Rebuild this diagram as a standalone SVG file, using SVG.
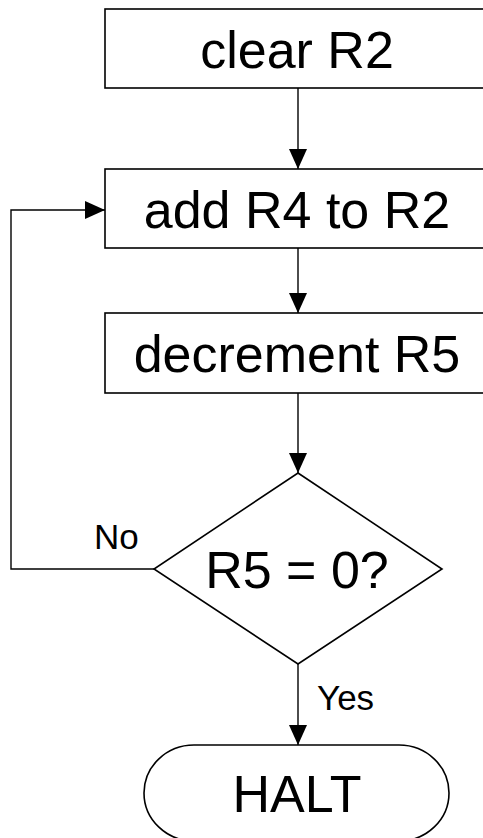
<svg xmlns="http://www.w3.org/2000/svg" width="483" height="838" viewBox="0 0 483 838">
<defs>
<marker id="arr" markerWidth="20" markerHeight="18" refX="20" refY="9" orient="auto" markerUnits="userSpaceOnUse">
<path d="M0,0 L20,9 L0,18 Z" fill="#000"/>
</marker>
<style>
.n{fill:#fff;stroke:#000;stroke-width:1.6}
.t{font-family:"Liberation Sans",Arial,sans-serif;font-size:52px;fill:#000;text-anchor:middle}
.l{font-family:"Liberation Sans",Arial,sans-serif;font-size:35px;fill:#000}
.c{fill:none;stroke:#000;stroke-width:1.4}
</style>
</defs>
<rect width="483" height="838" fill="#fff"/>
<g id="connectors">
<line class="c" x1="298" y1="88" x2="298" y2="169" marker-end="url(#arr)"/>
<line class="c" x1="298" y1="248" x2="298" y2="313" marker-end="url(#arr)"/>
<line class="c" x1="298" y1="393" x2="298" y2="473" marker-end="url(#arr)"/>
<polyline class="c" points="154,569 11,569 11,210 105,210" marker-end="url(#arr)"/>
<line class="c" x1="298" y1="664" x2="298" y2="745" marker-end="url(#arr)"/>
<text class="l" x="94" y="549">No</text>
<text class="l" x="317" y="710">Yes</text>
</g>
<g id="clear">
<rect class="n" x="105" y="9" width="386" height="79"/>
<text class="t" x="297" y="68">clear R2</text>
</g>
<g id="add">
<rect class="n" x="105" y="169" width="386" height="79"/>
<text class="t" x="297" y="228">add R4 to R2</text>
</g>
<g id="decrement">
<rect class="n" x="105" y="313" width="386" height="80"/>
<text class="t" x="297" y="372">decrement R5</text>
</g>
<g id="test">
<polygon class="n" points="298,473 442,569 298,664 154,569"/>
<text class="t" x="297" y="588">R5 = 0?</text>
</g>
<g id="halt">
<rect class="n" x="144" y="745" width="305" height="96" rx="50" ry="48"/>
<text class="t" x="297" y="812">HALT</text>
</g>
</svg>
